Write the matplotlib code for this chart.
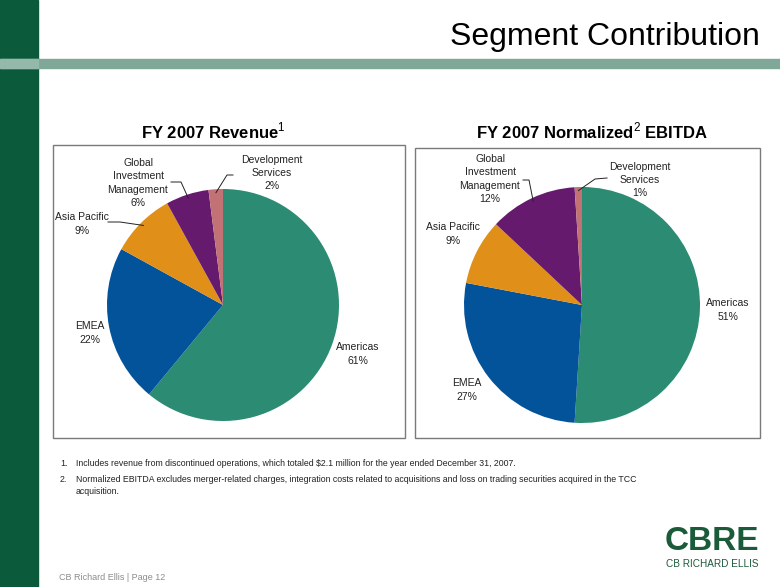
import numpy as np
import matplotlib
matplotlib.use("Agg")
import matplotlib.pyplot as plt
from matplotlib.patches import Rectangle

plt.rcParams['font.family'] = ['Liberation Sans', 'DejaVu Sans']
plt.rcParams['mathtext.fontset'] = 'custom'
plt.rcParams['mathtext.rm'] = 'Liberation Sans'

# data
segments = ["Americas", "EMEA", "Asia Pacific", "Global\nInvestment\nManagement", "Development\nServices"]
revenue = [61, 22, 9, 6, 2]
ebitda = [51, 27, 9, 12, 1]
colors = ["#2b8b73", "#03539b", "#e08f19", "#661a6d", "#c27174"]

W, H = 780, 587
fig = plt.figure(figsize=(W / 100, H / 100), dpi=100)
ax = fig.add_axes([0, 0, 1, 1])
ax.set_xlim(0, W)
ax.set_ylim(0, H)
ax.set_aspect('equal')
ax.axis('off')

def Y(y):
    # pixel row from top -> data y
    return H - y

# slide decoration
ax.add_patch(Rectangle((0, 0), 38, H, color="#0b5a3b", zorder=1))
ax.add_patch(Rectangle((0, Y(68)), W, 9, color="#80a898", zorder=2))
ax.add_patch(Rectangle((0, Y(68)), 38, 9, color="#94b9aa", zorder=3))
ax.text(760, Y(37), "Segment Contribution", fontsize=23, ha='right', va='center', color='black')

# boxes
ax.add_patch(Rectangle((53, Y(438)), 352, 293, fill=False, ec="#7a7a7a", lw=1))
ax.add_patch(Rectangle((415, Y(438)), 345, 290, fill=False, ec="#7a7a7a", lw=1))

ax.text(213, Y(131), r"FY 2007 Revenue$^{\mathrm{1}}$", fontsize=12, fontweight='bold', ha='center', va='center')
ax.text(592, Y(131), r"FY 2007 Normalized$^{\mathrm{2}}$ EBITDA", fontsize=12, fontweight='bold', ha='center', va='center')


def draw_pie(vals, cx, cy, r, label_pos, leaders):
    wedges, _ = ax.pie(vals, colors=colors, startangle=90, counterclock=False,
                       center=(cx, Y(cy)), radius=r, frame=True,
                       wedgeprops=dict(linewidth=0))
    for i, (name, v) in enumerate(zip(segments, vals)):
        lx, ly = label_pos[i]
        ax.text(lx, Y(ly), f"{name}\n{v}%", fontsize=7.5, ha='center', va='center',
                color="#222222", linespacing=1.42, zorder=5)
        if i in leaders:
            w = wedges[i]
            mid = np.deg2rad((w.theta1 + w.theta2) / 2)
            ex = cx + r * 0.97 * np.cos(mid)
            ey = Y(cy) + r * 0.97 * np.sin(mid)
            (x0, y0), (x1, y1) = leaders[i]
            ax.plot([x0, x1, ex], [Y(y0), Y(y1), ey], color="#222222", lw=0.7, zorder=5)


draw_pie(revenue, 223, 305, 116,
         [(358, 354), (90, 333), (82, 224), (138, 183), (272, 173)],
         {2: [(108, 222), (120, 222)], 3: [(171, 182), (181, 182)], 4: [(233, 175), (227, 175)]})
draw_pie(ebitda, 582, 305, 118,
         [(728, 310), (467, 390), (453, 234), (490, 179), (640, 180)],
         {3: [(523, 180), (529, 180)], 4: [(607, 178), (595, 179)]})

ax.set_xlim(0, W)
ax.set_ylim(0, H)
ax.axis('off')

# footnotes
fn = "#222222"
ax.text(60, Y(463), "1.", fontsize=6.3, va='center', color=fn)
ax.text(76, Y(463), "Includes revenue from discontinued operations, which totaled $2.1 million for the year ended December 31, 2007.",
        fontsize=6.3, va='center', color=fn)
ax.text(60, Y(480), "2.", fontsize=6.3, va='center', color=fn)
ax.text(76, Y(480), "Normalized EBITDA excludes merger-related charges, integration costs related to acquisitions and loss on trading securities acquired in the TCC",
        fontsize=6.3, va='center', color=fn)
ax.text(76, Y(492), "acquisition.", fontsize=6.3, va='center', color=fn)

ax.text(59, Y(577), "CB Richard Ellis | Page 12", fontsize=6.5, va='center', color="#8c8c8c")

# logo
ax.text(759, Y(542), "CBRE", fontsize=24, fontweight='bold', ha='right', va='center', color="#1b5b39")
ax.text(758, Y(564), "CB RICHARD ELLIS", fontsize=7.2, ha='right', va='center', color="#1b5b39")

fig.savefig("out.png", dpi=100)
